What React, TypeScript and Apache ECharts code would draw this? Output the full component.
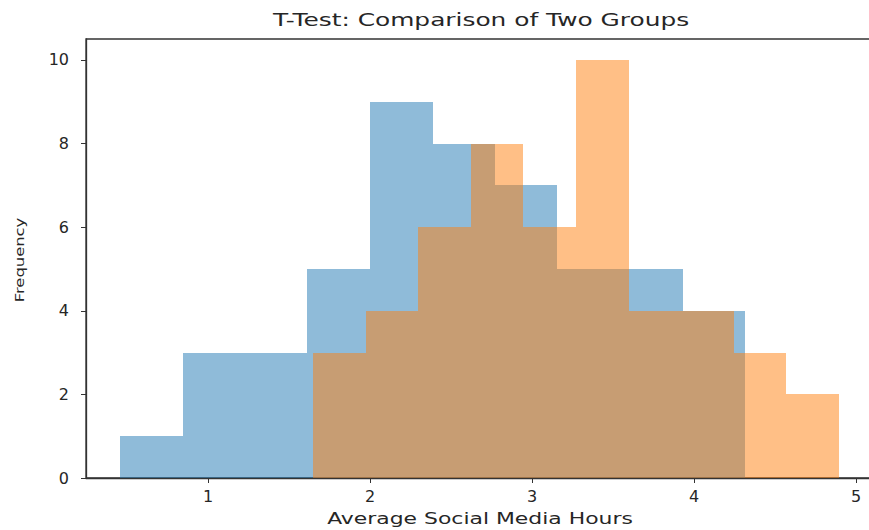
import React, { useEffect, useRef } from "react";
import * as echarts from "echarts";

// Histogram bin edges (x units) and counts
const groupAEdges = [0.457, 0.843, 1.228, 1.614, 2.0, 2.386, 2.772, 3.157, 3.543, 3.929, 4.315];
const groupACounts = [1, 3, 3, 5, 9, 8, 7, 5, 5, 4];
const groupBEdges = [1.648, 1.973, 2.297, 2.622, 2.947, 3.271, 3.596, 3.921, 4.245, 4.57, 4.895];
const groupBCounts = [3, 4, 6, 8, 6, 10, 4, 4, 3, 2];
const xTicks = [1, 2, 3, 4, 5];
const yTicks = [0, 2, 4, 6, 8, 10];

const titleText = "T-Test: Comparison of Two Groups";
const xLabel = "Average Social Media Hours";
const yLabel = "Frequency";

function toBins(edges: number[], counts: number[]) {
  return counts.map((c, i) => [edges[i], edges[i + 1], c]);
}

function renderBin(color: string) {
  return (params: any, api: any) => {
    const x0 = api.value(0);
    const x1 = api.value(1);
    const h = api.value(2);
    const p0 = api.coord([x0, h]);
    const p1 = api.coord([x1, 0]);
    const left = Math.round(p0[0]);
    const right = Math.round(p1[0]);
    const top = Math.round(p0[1]);
    const bottom = Math.round(p1[1]);
    return {
      type: "rect",
      shape: { x: left, y: top, width: right - left, height: bottom - top },
      style: { fill: color },
    };
  };
}

export default function App() {
  const ref = useRef<HTMLDivElement>(null);
  useEffect(() => {
    if (!ref.current) return;
    const chart = echarts.init(ref.current, null, { renderer: "svg" });
    const font = "DejaVu Sans";
    const textColor = "#262626";
    chart.setOption({
      animation: false,
      backgroundColor: "#ffffff",
      grid: {
        left: 86,
        top: 39,
        width: 790,
        bottom: 52,
        outerBoundsMode: "none",
        containLabel: false,
        show: true,
        borderColor: "#333",
        borderWidth: 1.3,
        backgroundColor: "transparent",
      },
      xAxis: {
        type: "value",
        min: 0.247,
        max: 5.123,
        splitLine: { show: false },
        axisLine: { show: true, onZero: false, lineStyle: { color: "#333", width: 1.3 } },
        axisTick: { show: true, length: 5, customValues: xTicks, lineStyle: { color: "#333" } },
        axisLabel: {
          customValues: xTicks,
          margin: 10,
          fontFamily: font,
          fontSize: 16,
          color: textColor,
        },
      },
      yAxis: {
        type: "value",
        min: 0,
        max: 10.5,
        splitLine: { show: false },
        axisLine: { show: true, lineStyle: { color: "#333", width: 1.3 } },
        axisTick: { show: true, length: 5, customValues: yTicks, lineStyle: { color: "#333" } },
        axisLabel: {
          customValues: yTicks,
          margin: 17,
          fontFamily: font,
          fontSize: 16,
          color: textColor,
        },
      },
      graphic: [
        {
          type: "text",
          x: 481,
          y: 20,
          scaleX: 1.38,
          style: {
            text: titleText,
            fontFamily: font,
            fontSize: 18,
            fill: textColor,
            textAlign: "center",
            textVerticalAlign: "middle",
          },
        },
        {
          type: "text",
          x: 480,
          y: 519,
          scaleX: 1.37,
          style: {
            text: xLabel,
            fontFamily: font,
            fontSize: 16,
            fill: textColor,
            textAlign: "center",
            textVerticalAlign: "middle",
          },
        },
        {
          type: "text",
          x: 19,
          y: 260,
          rotation: Math.PI / 2,
          scaleX: 1.26,
          style: {
            text: yLabel,
            fontFamily: font,
            fontSize: 13,
            fill: textColor,
            textAlign: "center",
            textVerticalAlign: "middle",
          },
        },
      ],
      series: [
        {
          type: "custom",
          name: "Group A",
          renderItem: renderBin("rgba(31,119,180,0.5)"),
          encode: { x: [0, 1], y: 2 },
          data: toBins(groupAEdges, groupACounts),
          z: 2,
        },
        {
          type: "custom",
          name: "Group B",
          renderItem: renderBin("rgba(255,127,14,0.5)"),
          encode: { x: [0, 1], y: 2 },
          data: toBins(groupBEdges, groupBCounts),
          z: 3,
        },
      ],
    });
    return () => chart.dispose();
  }, []);
  return (
    <div
      ref={ref}
      style={{ position: "fixed", left: 0, top: 0, width: 869, height: 530, background: "#fff" }}
    />
  );
}
